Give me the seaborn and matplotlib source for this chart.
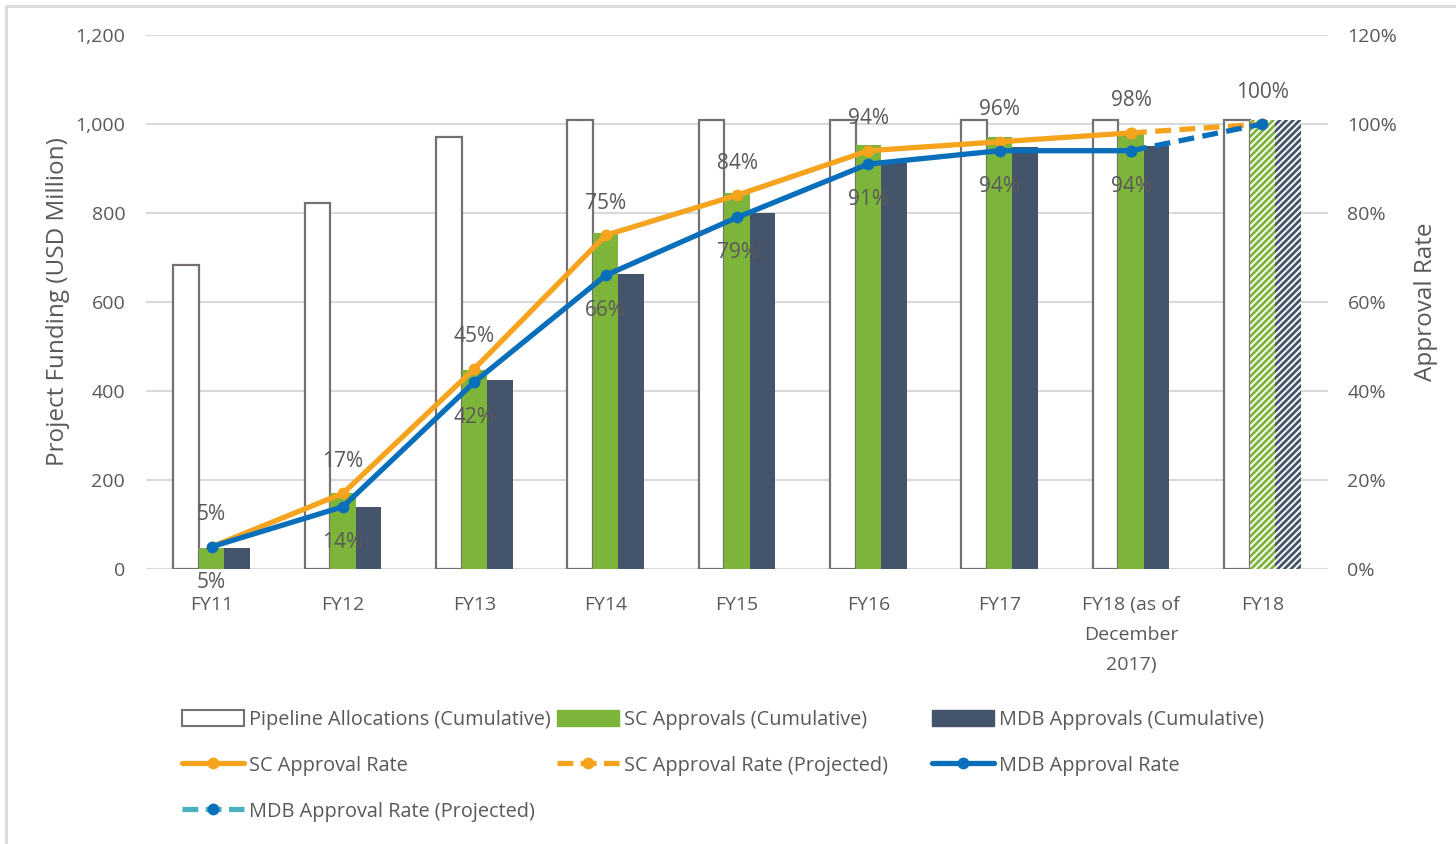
import matplotlib
matplotlib.use("Agg")
import matplotlib.pyplot as plt
from matplotlib.lines import Line2D
from matplotlib.patches import Patch, Rectangle
import seaborn as sns
import pandas as pd

# ---- data ----
categories = ["FY11", "FY12", "FY13", "FY14", "FY15", "FY16", "FY17",
              "FY18 (as of\nDecember\n2017)", "FY18"]
pipeline = [683, 822, 971, 1009, 1009, 1009, 1009, 1009, 1009]
sc_approvals = [47, 171, 447, 755, 845, 953, 971, 984, 1009]
mdb_approvals = [47, 139, 425, 663, 800, 912, 948, 951, 1009]
sc_rate = [5, 17, 45, 75, 84, 94, 96, 98]
mdb_rate = [5, 14, 42, 66, 79, 91, 94, 94]
sc_rate_proj = [98, 100]
mdb_rate_proj = [94, 100]
yticks_left = [0, 200, 400, 600, 800, 1000, 1200]
yticks_right = [0, 20, 40, 60, 80, 100, 120]

series_names = ["Pipeline Allocations (Cumulative)", "SC Approvals (Cumulative)",
                "MDB Approvals (Cumulative)"]
line_names = ["SC Approval Rate", "SC Approval Rate (Projected)",
              "MDB Approval Rate", "MDB Approval Rate (Projected)"]

GREEN = "#7db43a"
DARK = "#44546a"
ORANGE = "#f6a31e"
BLUE = "#0a6fba"
TEAL = "#4bb0c0"
GREY_EDGE = "#767171"
TXT = "#595959"
GRID = "#d9d9d9"

sns.set_theme(style="white")
plt.rcParams["font.family"] = ["Open Sans", "DejaVu Sans"]
plt.rcParams["hatch.linewidth"] = 2.0

pos = list(range(len(categories)))
df = pd.DataFrame({
    "pos": pos * 3,
    "value": pipeline + sc_approvals + mdb_approvals,
    "series": [series_names[0]] * 9 + [series_names[1]] * 9 + [series_names[2]] * 9,
})

fig = plt.figure(figsize=(14.56, 8.44), dpi=100)
ax = fig.add_axes([146 / 1456, 1 - 569 / 844, (1328 - 146) / 1456, (569 - 35) / 844])

sns.barplot(data=df, x="pos", y="value", hue="series", hue_order=series_names,
            palette=["white", GREEN, DARK], width=0.585, gap=0, legend=False,
            ax=ax, saturation=1, errorbar=None)

for i, cont in enumerate(ax.containers):
    for j, bar in enumerate(cont.patches):
        bar.set_zorder(2)
        if i == 0:
            bar.set_edgecolor(GREY_EDGE)
            bar.set_linewidth(1.6)
            bar.set_facecolor("white")
        else:
            col = GREEN if i == 1 else DARK
            bar.set_linewidth(0)
            if j == len(categories) - 1:
                bar.set_facecolor("white")
                bar.set_edgecolor(col)
                bar.set_hatch("/////")
            else:
                bar.set_edgecolor(col)

ax.set_xlim(-0.5, len(categories) - 0.5)
ax.set_ylim(0, 1200)
ax.set_yticks(yticks_left)
ax.set_yticklabels([f"{v:,}" for v in yticks_left])
ax.set_xticks(pos)
ax.set_xticklabels(categories, linespacing=1.87)
ax.set_xlabel("")
ax.set_ylabel("Project Funding (USD Million)", fontsize=17.5, color=TXT, labelpad=3.5)
ax.yaxis.grid(True, color=GRID, linewidth=1.5, zorder=0)
ax.set_axisbelow(True)
for s in ax.spines.values():
    s.set_visible(False)
ax.axhline(0, color=GRID, linewidth=1.5, zorder=1)
ax.tick_params(axis="both", length=0, labelsize=14, colors=TXT)
ax.tick_params(axis="y", pad=15)
ax.tick_params(axis="x", pad=19.5)

ax2 = ax.twinx()
ax2.set_ylim(0, 120)
ax2.set_yticks(yticks_right)
ax2.set_yticklabels([f"{v}%" for v in yticks_right])
for s in ax2.spines.values():
    s.set_visible(False)
ax2.tick_params(axis="y", length=0, labelsize=14, colors=TXT, pad=14)
ax2.set_ylabel("Approval Rate", fontsize=17.5, color=TXT, labelpad=12)

lw = 3.8
ms = 8.5
dash = (0, (3.0, 1.6))
sns.lineplot(x=pos[7:9], y=sc_rate_proj, ax=ax2, color=ORANGE, linewidth=lw,
             linestyle=dash, marker="o", markersize=ms,
             markeredgewidth=0, legend=False)
sns.lineplot(x=pos[7:9], y=mdb_rate_proj, ax=ax2, color=BLUE, linewidth=lw,
             linestyle=dash, marker="o", markersize=ms,
             markeredgewidth=0, legend=False)
sns.lineplot(x=pos[:8], y=sc_rate, ax=ax2, color=ORANGE, linewidth=lw,
             marker="o", markersize=ms, markeredgewidth=0, legend=False)
sns.lineplot(x=pos[:8], y=mdb_rate, ax=ax2, color=BLUE, linewidth=lw,
             marker="o", markersize=ms, markeredgewidth=0, legend=False)
ax2.set_xlim(-0.5, len(categories) - 0.5)
ax2.set_xlabel("")

LBL = 15
for x, v in zip(pos[:8], sc_rate):
    ax2.annotate(f"{v}%", (x, v), xytext=(0, 23), textcoords="offset points",
                 ha="center", va="center", fontsize=LBL, color=TXT)
for x, v in zip(pos[:8], mdb_rate):
    ax2.annotate(f"{v}%", (x, v), xytext=(0, -25.5), textcoords="offset points",
                 ha="center", va="center", fontsize=LBL, color=TXT)
ax2.annotate(f"{sc_rate_proj[-1]}%", (pos[8], sc_rate_proj[-1]), xytext=(0, 23),
             textcoords="offset points", ha="center", va="center", fontsize=LBL, color=TXT)

# legend: three independent columns, laid out row by row
leg_dash = (0, (3.0, 1.4))
handles = [
    Patch(facecolor="white", edgecolor=GREY_EDGE, linewidth=1.5),
    Patch(facecolor=GREEN, edgecolor=GREEN),
    Patch(facecolor=DARK, edgecolor=DARK),
    Line2D([], [], color=ORANGE, linewidth=lw, marker="o", markersize=ms, markeredgewidth=0),
    Line2D([], [], color=ORANGE, linewidth=lw, linestyle=leg_dash, marker="o",
           markersize=ms, markeredgewidth=0),
    Line2D([], [], color=BLUE, linewidth=lw, marker="o", markersize=ms, markeredgewidth=0),
    Line2D([], [], color=TEAL, linewidth=lw, linestyle=leg_dash, marker="o",
           markersize=ms, markeredgewidth=0, markerfacecolor=BLUE),
]
labels = series_names + line_names
col_x = [182, 557, 932]
for c in range(3):
    idx = list(range(c, len(handles), 3))
    lg = fig.legend([handles[k] for k in idx], [labels[k] for k in idx],
                    loc="upper left", bbox_to_anchor=(col_x[c] / 1456, 1 - 710 / 844),
                    ncol=1, frameon=False, fontsize=14.3, handlelength=3.1,
                    handleheight=0.85, handletextpad=0.25, borderpad=0,
                    borderaxespad=0, labelspacing=1.3, labelcolor=TXT)

# outer border of chart area
fig.add_artist(Rectangle((6 / 1456, -0.1), 1.2, 1 - 6 / 844 + 0.1, transform=fig.transFigure,
                         fill=False, edgecolor=GRID, linewidth=2))

fig.savefig("out.png", dpi=100)
